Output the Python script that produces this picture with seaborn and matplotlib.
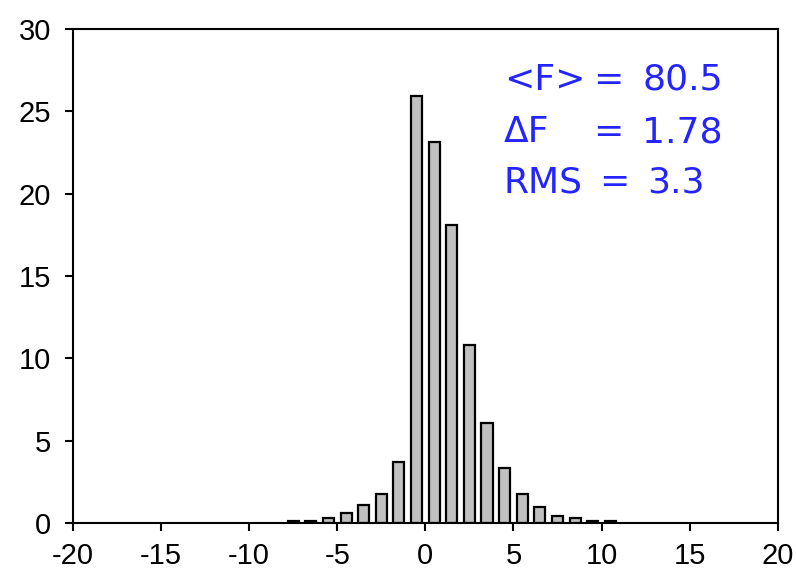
import matplotlib
matplotlib.use("Agg")
import matplotlib.pyplot as plt
import seaborn as sns
import pandas as pd

# data
bin_centers = [-7.5, -6.5, -5.5, -4.5, -3.5, -2.5, -1.5, -0.5, 0.5, 1.5, 2.5,
               3.5, 4.5, 5.5, 6.5, 7.5, 8.5, 9.5, 10.5]
counts = [0.15, 0.15, 0.3, 0.6, 1.1, 1.75, 3.7, 25.95, 23.15, 18.1, 10.8,
          6.1, 3.35, 1.75, 0.95, 0.45, 0.3, 0.12, 0.12]
x_ticks = [-20, -15, -10, -5, 0, 5, 10, 15, 20]
y_ticks = [0, 5, 10, 15, 20, 25, 30]
stat_labels = ["<F>", "ΔF", "RMS"]
stat_values = ["80.5", "1.78", "3.3"]

sns.set_style("white")
plt.rcParams['font.family'] = ['Liberation Sans', 'DejaVu Sans']

fig = plt.figure(figsize=(7.96, 5.72), dpi=100)
ax = fig.add_axes([0.0917, 0.0857, 0.8853, 0.8636])

df = pd.DataFrame({"x": bin_centers, "y": counts})
sns.barplot(data=df, x="x", y="y", native_scale=True, width=0.63,
            color="#C0C0C0", edgecolor="black", linewidth=1.6,
            saturation=1, ax=ax)
for p in ax.patches:
    p.set_facecolor("#C0C0C0")

ax.set_xlim(-20, 20)
ax.set_ylim(0, 30)
ax.set_xticks(x_ticks)
ax.set_xticklabels([str(t) for t in x_ticks])
ax.set_yticks(y_ticks)
ax.set_yticklabels([str(t) for t in y_ticks])
ax.set_xlabel("")
ax.set_ylabel("")
for s in ax.spines.values():
    s.set_visible(True)
    s.set_color("black")
    s.set_linewidth(1.5)
ax.tick_params(axis="both", direction="out", length=6, width=1.5,
               colors="black", labelsize=21, bottom=True, left=True)
ax.tick_params(axis="y", pad=10)
ax.tick_params(axis="x", pad=8)

blue = "#2424FF"
ys = [26.3, 23.13, 20.1]
eq_x = [9.5, 9.5, 9.85]
val_x = [12.3, 12.3, 12.6]
fs = 26
for lab, val, y, ex, vx in zip(stat_labels, stat_values, ys, eq_x, val_x):
    ax.text(4.45, y, lab, color=blue, fontsize=fs, va="baseline", ha="left",
            family=["DejaVu Sans"])
    ax.text(ex, y, "=", color=blue, fontsize=fs, va="baseline", ha="left",
            family=["DejaVu Sans"])
    ax.text(vx, y, val, color=blue, fontsize=fs, va="baseline", ha="left",
            family=["DejaVu Sans"])

fig.savefig("out.png", dpi=100)
